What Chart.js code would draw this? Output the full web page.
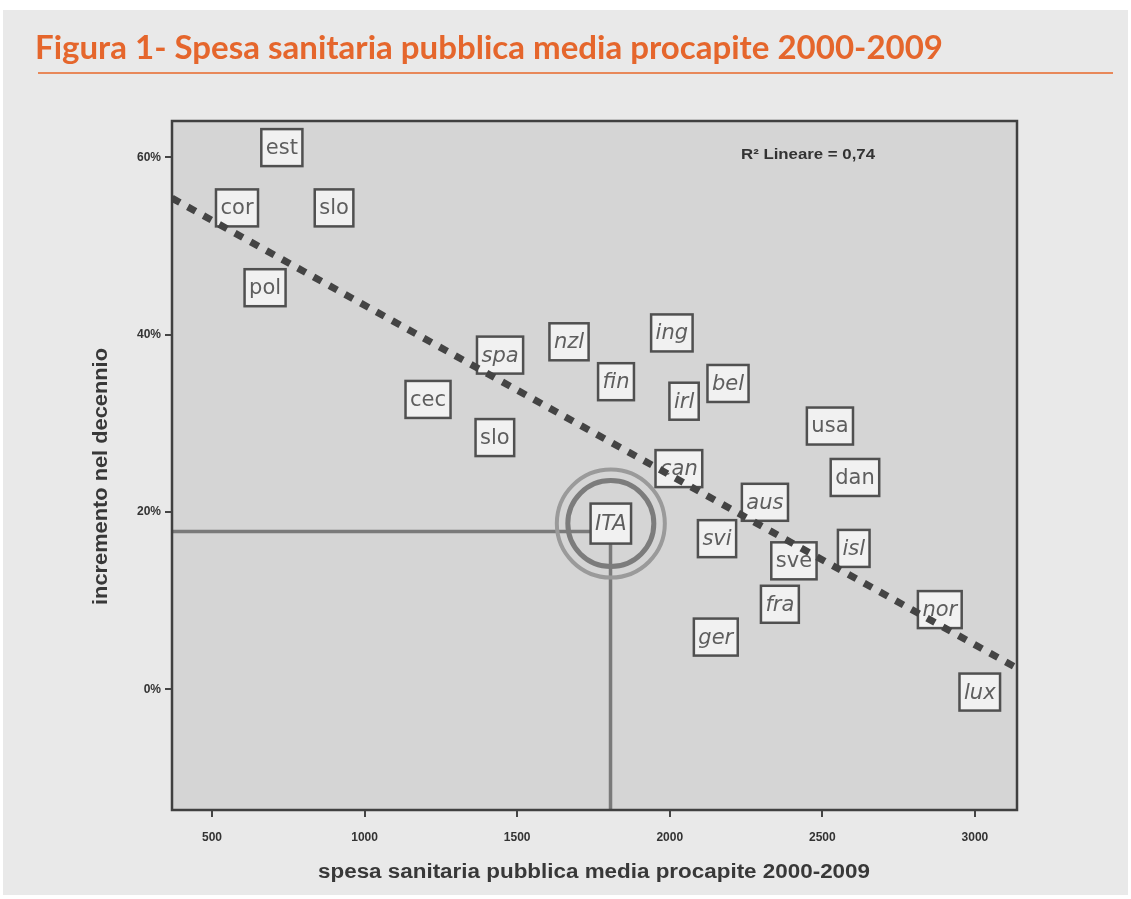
<!DOCTYPE html>
<html>
<head>
<meta charset="utf-8">
<script src="https://cdn.jsdelivr.net/npm/chart.js@4.4.1/dist/chart.umd.min.js"></script>
<style>
    html, body { margin: 0; padding: 0; background: #ffffff; }
    canvas { display: block; }
</style>
</head>
<body>
<canvas id="spesaChart" width="1131" height="899"></canvas>
<script>
// Dati
const paesi = ['est', 'cor', 'slo', 'pol', 'spa', 'nzl', 'ing', 'fin', 'bel', 'irl', 'cec', 'usa',
    'slo', 'dan', 'can', 'aus', 'ITA', 'svi', 'isl', 'sve', 'fra', 'nor', 'ger', 'lux'];
const spesaProcapite = [729, 582, 900, 674, 1444, 1670, 2007, 1824, 2191, 2047, 1208, 2525,
    1427, 2607, 2030, 2312, 1807, 2155, 2603, 2407, 2361, 2885, 2151, 3016];
const incremento = [61.1, 54.3, 54.3, 45.3, 37.7, 39.2, 40.2, 34.7, 34.5, 32.5, 32.7, 29.7,
    28.4, 23.9, 24.9, 21.1, 18.7, 17.0, 15.9, 14.5, 9.6, 9.0, 5.9, -0.3];

// retta di regressione (estremi)
const rettaX = [369, 3138];
const rettaY = [55.4, 2.4];

// linee di riferimento per l'Italia
const itaX = 1806;
const itaY = 17.8;

const xTicks = [500, 1000, 1500, 2000, 2500, 3000];
const yTicks = [0, 20, 40, 60];
const xRange = [369, 3138];
const yRange = [-13.6, 64.1];

const titolo = 'Figura 1- Spesa sanitaria pubblica media procapite 2000-2009';
const titoloX = 'spesa sanitaria pubblica media procapite 2000-2009';
const titoloY = 'incremento nel decennio';
const testoR2 = 'R\u00B2 Lineare = 0,74';

const corsivi = ['nzl', 'ing', 'fin', 'irl', 'bel', 'ITA', 'isl', 'fra', 'nor', 'ger', 'lux', 'aus', 'spa', 'can', 'svi'];

const puntiPaesi = spesaProcapite.map((x, i) => ({ x: x, y: incremento[i] }));
const puntiRetta = rettaX.map((x, i) => ({ x: x, y: rettaY[i] }));
const itaIdx = paesi.indexOf('ITA');

// scrive un testo compresso/allargato fino alla larghezza voluta
function testoAdattato(ctx, testo, x, y, larghezza) {
    const w = ctx.measureText(testo).width;
    ctx.save();
    ctx.translate(x, y);
    ctx.scale(larghezza / w, 1);
    ctx.fillText(testo, 0, 0);
    ctx.restore();
}

// Background, titolo e area del grafico
const sfondoPlugin = {
    id: 'sfondo',
    beforeDraw(chart) {
        const ctx = chart.ctx;
        const a = chart.chartArea;
        ctx.save();
        ctx.fillStyle = '#ffffff';
        ctx.fillRect(0, 0, chart.width, chart.height);
        ctx.fillStyle = '#e9e9e9';
        ctx.fillRect(3, 10, 1125, 885);
        ctx.fillStyle = '#d5d5d5';
        ctx.fillRect(a.left, a.top, a.right - a.left, a.bottom - a.top);

        // titolo arancione
        ctx.font = 'bold 32px Lato';
        ctx.fillStyle = '#e5662c';
        ctx.textBaseline = 'alphabetic';
        ctx.textAlign = 'left';
        testoAdattato(ctx, titolo, 35, 59, 908);

        ctx.strokeStyle = '#e8885a';
        ctx.lineWidth = 2;
        ctx.beginPath();
        ctx.moveTo(38, 73);
        ctx.lineTo(1113, 73);
        ctx.stroke();
        ctx.restore();
    }
};

// Etichette dei paesi nei riquadri
const etichettePlugin = {
    id: 'etichette',
    afterDatasetDraw(chart, args) {
        if (args.index !== 0) return;
        const ctx = chart.ctx;
        const meta = chart.getDatasetMeta(0);
        ctx.save();
        meta.data.forEach((pt, i) => {
            const nome = paesi[i];
            const italic = corsivi.includes(nome) ? 'italic ' : '';
            ctx.font = italic + '21px "DejaVu Sans"';
            const tw = ctx.measureText(nome).width;
            const bw = tw + 9;
            const bh = nome === 'ITA' ? 40 : 37;
            ctx.fillStyle = '#f1f1f1';
            ctx.fillRect(pt.x - bw / 2, pt.y - bh / 2, bw, bh);
            ctx.strokeStyle = '#505050';
            ctx.lineWidth = 2.5;
            ctx.strokeRect(pt.x - bw / 2, pt.y - bh / 2, bw, bh);
            ctx.fillStyle = '#5e5e5e';
            ctx.textAlign = 'center';
            ctx.textBaseline = 'middle';
            ctx.fillText(nome, pt.x, pt.y + 1);
        });
        ctx.restore();
    }
};

// Cornice, titoli degli assi e R2
const cornicePlugin = {
    id: 'cornice',
    afterDraw(chart) {
        const ctx = chart.ctx;
        const a = chart.chartArea;
        ctx.save();
        ctx.strokeStyle = '#404040';
        ctx.lineWidth = 2.5;
        ctx.strokeRect(a.left, a.top, a.right - a.left, a.bottom - a.top);

        ctx.fillStyle = '#383838';
        ctx.font = 'bold 20px "Liberation Sans"';
        ctx.textAlign = 'left';
        ctx.textBaseline = 'middle';
        testoAdattato(ctx, titoloX, 318, 872, 552);

        ctx.save();
        ctx.translate(101, 605);
        ctx.rotate(-Math.PI / 2);
        testoAdattato(ctx, titoloY, 0, 0, 257);
        ctx.restore();

        ctx.font = 'bold 14px "Liberation Sans"';
        ctx.fillStyle = '#333333';
        testoAdattato(ctx, testoR2, 741, 155, 134);
        ctx.restore();
    }
};

const ctx = document.getElementById('spesaChart');

new Chart(ctx, {
    type: 'scatter',
    data: {
        datasets: [
            {
                label: 'paesi',
                data: puntiPaesi,
                pointRadius: 0,
                order: 4
            },
            {
                label: 'cerchio esterno',
                data: [puntiPaesi[itaIdx]],
                pointRadius: 54,
                pointBorderWidth: 4,
                pointBorderColor: '#9a9a9a',
                pointBackgroundColor: 'rgba(0,0,0,0)',
                order: 3
            },
            {
                label: 'cerchio interno',
                data: [puntiPaesi[itaIdx]],
                pointRadius: 43,
                pointBorderWidth: 5,
                pointBorderColor: '#7c7c7c',
                pointBackgroundColor: 'rgba(0,0,0,0)',
                order: 3
            },
            {
                type: 'line',
                label: 'riferimento orizzontale',
                data: [{ x: xRange[0], y: itaY }, { x: itaX, y: itaY }],
                borderColor: '#7a7a7a',
                borderWidth: 3.5,
                pointRadius: 0,
                order: 5
            },
            {
                type: 'line',
                label: 'riferimento verticale',
                data: [{ x: itaX, y: yRange[0] }, { x: itaX, y: itaY }],
                borderColor: '#7a7a7a',
                borderWidth: 3.5,
                pointRadius: 0,
                order: 5
            },
            {
                type: 'line',
                label: 'retta',
                data: puntiRetta,
                borderColor: '#444444',
                borderWidth: 7,
                borderDash: [9, 9],
                pointRadius: 0,
                order: 1
            }
        ]
    },
    options: {
        responsive: false,
        animation: false,
        layout: {
            padding: { top: 121, right: 114, left: 82, bottom: 14 }
        },
        plugins: {
            legend: { display: false },
            tooltip: { enabled: false }
        },
        scales: {
            x: {
                type: 'linear',
                min: xRange[0],
                max: xRange[1],
                afterFit: function(scale) { scale.height = 75; },
                afterBuildTicks: function(scale) {
                    scale.ticks = xTicks.map(v => ({ value: v }));
                },
                border: { display: false },
                grid: {
                    drawOnChartArea: false,
                    drawTicks: true,
                    tickLength: 7,
                    color: '#444444',
                    lineWidth: 2
                },
                ticks: {
                    padding: 13,
                    color: '#333333',
                    font: { family: 'Liberation Sans', size: 12, weight: 'bold' },
                    callback: function(value) {
                        return String(value);
                    }
                }
            },
            y: {
                type: 'linear',
                min: yRange[0],
                max: yRange[1],
                afterFit: function(scale) { scale.width = 90; },
                afterBuildTicks: function(scale) {
                    scale.ticks = yTicks.map(v => ({ value: v }));
                },
                border: { display: false },
                grid: {
                    drawOnChartArea: false,
                    drawTicks: true,
                    tickLength: 7,
                    color: '#444444',
                    lineWidth: 2
                },
                ticks: {
                    padding: 4,
                    color: '#333333',
                    font: { family: 'Liberation Sans', size: 12, weight: 'bold' },
                    callback: function(value) {
                        return value + '%';
                    }
                }
            }
        }
    },
    plugins: [sfondoPlugin, etichettePlugin, cornicePlugin]
});
</script>
</body>
</html>
